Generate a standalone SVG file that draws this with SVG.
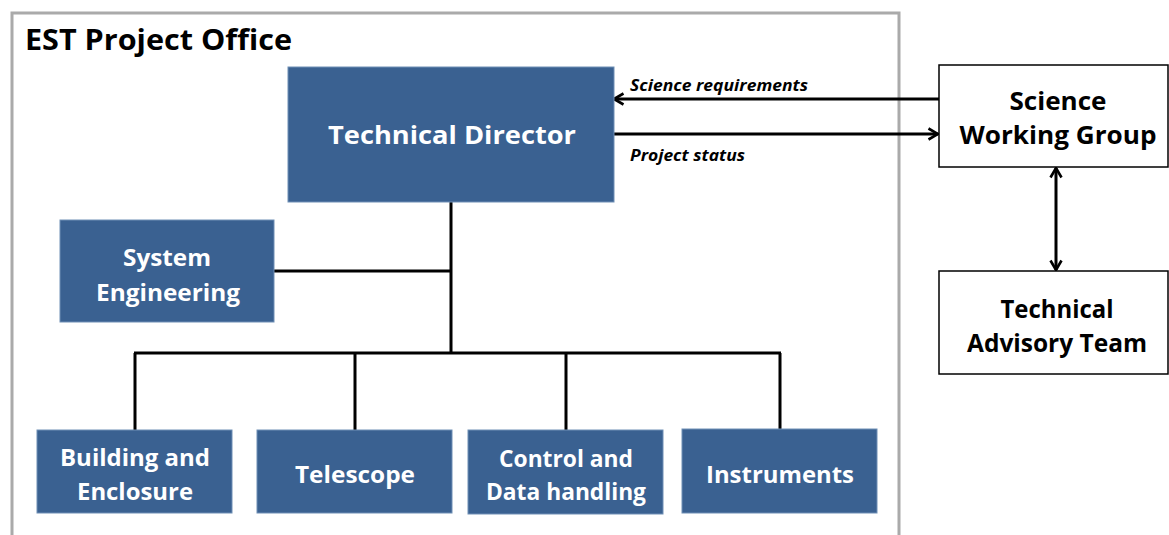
<svg xmlns="http://www.w3.org/2000/svg" width="1169" height="535" viewBox="0 0 1169 535">
<style>
.blue{fill:#3a6191;stroke:#6f8fb5;stroke-width:1}
.white{fill:#ffffff;stroke:#000;stroke-width:1.5}
.wt{font-family:"Open Sans",Lato,sans-serif;font-weight:bold;fill:#fff;text-anchor:middle}
.bt{font-family:"Open Sans",Lato,sans-serif;font-weight:bold;fill:#000;text-anchor:middle}
.lbl{font-family:"Open Sans",Lato,sans-serif;font-weight:bold;font-style:italic;fill:#000;font-size:16px}
.ln{stroke:#000;stroke-width:3;fill:none}
</style>
<defs>
<marker id="arr" viewBox="0 0 14 14" refX="12.5" refY="7" markerWidth="14" markerHeight="14" markerUnits="userSpaceOnUse" orient="auto-start-reverse">
<path d="M3,1.5 L12.5,7 L3,12.5" fill="none" stroke="#000" stroke-width="2.6"/>
</marker>
</defs>
<rect width="1169" height="535" fill="#fff"/>
<g id="frame">
<path d="M12,535 L12,13 L899,13 L899,535" fill="none" stroke="#aaaaaa" stroke-width="3"/>
<text x="25" y="50" textLength="267" lengthAdjust="spacingAndGlyphs" style="font-family:'Open Sans',Lato,sans-serif;font-weight:bold;font-size:28px" fill="#000">EST Project Office</text>
</g>
<g id="connectors">
<path class="ln" d="M451,202 L451,353 M274,271 L451,271 M134,353 L781,353 M135,353 L135,430 M355,353 L355,430 M566,353 L566,430 M780,353 L780,429"/>
<path class="ln" d="M939,99 L614,99" marker-end="url(#arr)" stroke-width="2.5"/>
<path class="ln" d="M614,134 L938,134" marker-end="url(#arr)" stroke-width="2.5"/>
<path class="ln" d="M1056,168 L1056,270" marker-start="url(#arr)" marker-end="url(#arr)" stroke-width="2.5"/>
<text class="lbl" x="630" y="91" textLength="178" lengthAdjust="spacingAndGlyphs">Science requirements</text>
<text class="lbl" x="630" y="161" textLength="115" lengthAdjust="spacingAndGlyphs">Project status</text>
</g>
<g id="technical-director">
<rect class="blue" x="288" y="67" width="326" height="135"/>
<text class="wt" x="452" y="144" font-size="25" textLength="248" lengthAdjust="spacingAndGlyphs">Technical Director</text>
</g>
<g id="system-engineering">
<rect class="blue" x="60" y="220" width="214" height="102"/>
<text class="wt" x="167" y="266" font-size="23" textLength="88" lengthAdjust="spacingAndGlyphs">System</text>
<text class="wt" x="168" y="301" font-size="23" textLength="144" lengthAdjust="spacingAndGlyphs">Engineering</text>
</g>
<g id="building-enclosure">
<rect class="blue" x="37" y="430" width="195" height="83"/>
<text class="wt" x="135" y="466" font-size="23" textLength="150" lengthAdjust="spacingAndGlyphs">Building and</text>
<text class="wt" x="135" y="500" font-size="23" textLength="116" lengthAdjust="spacingAndGlyphs">Enclosure</text>
</g>
<g id="telescope">
<rect class="blue" x="257" y="430" width="195" height="83"/>
<text class="wt" x="355" y="483" font-size="23" textLength="120" lengthAdjust="spacingAndGlyphs">Telescope</text>
</g>
<g id="control-data">
<rect class="blue" x="468" y="430" width="195" height="84"/>
<text class="wt" x="566" y="467" font-size="23" textLength="134" lengthAdjust="spacingAndGlyphs">Control and</text>
<text class="wt" x="566" y="500" font-size="23" textLength="160" lengthAdjust="spacingAndGlyphs">Data handling</text>
</g>
<g id="instruments">
<rect class="blue" x="682" y="429" width="195" height="84"/>
<text class="wt" x="780" y="483" font-size="23" textLength="148" lengthAdjust="spacingAndGlyphs">Instruments</text>
</g>
<g id="science-working-group">
<rect class="white" x="939" y="65" width="229" height="102"/>
<text class="bt" x="1058" y="110" font-size="25" textLength="97" lengthAdjust="spacingAndGlyphs">Science</text>
<text class="bt" x="1058" y="144" font-size="25" textLength="197" lengthAdjust="spacingAndGlyphs">Working Group</text>
</g>
<g id="technical-advisory-team">
<rect class="white" x="939" y="271" width="229" height="103"/>
<text class="bt" x="1057" y="318" font-size="25" textLength="113" lengthAdjust="spacingAndGlyphs">Technical</text>
<text class="bt" x="1057" y="352" font-size="25" textLength="180" lengthAdjust="spacingAndGlyphs">Advisory Team</text>
</g>
</svg>
